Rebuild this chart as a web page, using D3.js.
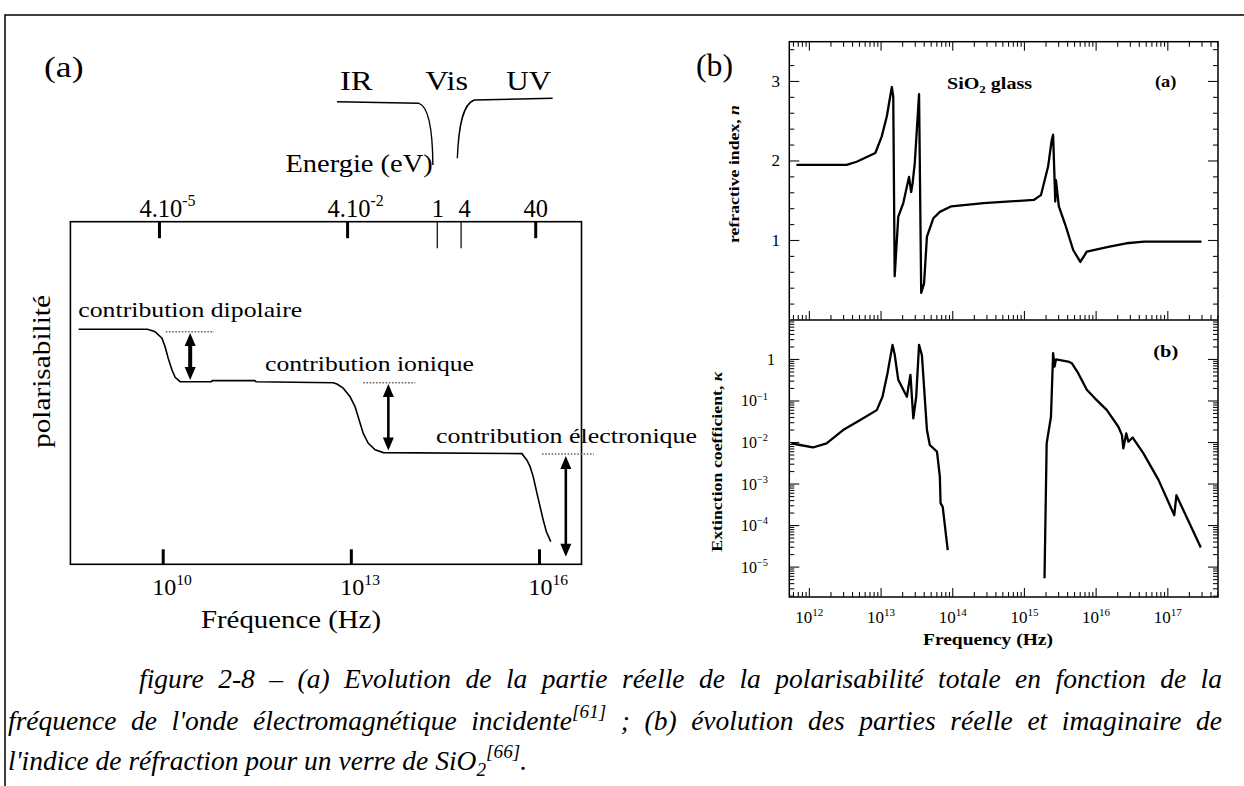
<!DOCTYPE html>
<html>
<head>
<meta charset="utf-8">
<style>
  body { margin: 0; background: #fff; }
  svg { display: block; }
  text { font-family: "Liberation Serif", "Times New Roman", serif; fill: #000; }
</style>
</head>
<body>
<svg width="1244" height="786"></svg>
<script src="https://d3js.org/d3.v7.min.js"></script>
<script>

// ---------- (a) polarisability vs frequency ----------
// x = log10(frequency / Hz), y = polarisability, arbitrary units (0 bottom .. 1 top of frame)
var polCurve = [[8.65,0.686],[9.75,0.686],[9.87,0.679],[9.98,0.660],[10.03,0.635],[10.08,0.601],
  [10.14,0.567],[10.19,0.546],[10.27,0.533],[10.77,0.533],[10.78,0.536],[11.46,0.536],[11.48,0.533],
  [12.71,0.530],[12.77,0.526],[12.87,0.514],[12.98,0.489],[13.06,0.460],[13.14,0.412],[13.19,0.382],
  [13.27,0.353],[13.38,0.334],[13.51,0.326],[15.72,0.323],[15.80,0.304],[15.85,0.285],[15.90,0.256],
  [15.96,0.207],[16.01,0.168],[16.06,0.129],[16.11,0.095],[16.18,0.066]];
var freqTicks = [10, 13, 16];
var energyTicks = [9.94, 12.94, 15.94];
var energyLabels = [["4.10", "-5"], ["4.10", "-2"], ["40", ""]];
var visTicks = [14.37, 14.75];
var visLabels = ["1", "4"];
var bands = ["IR", "Vis", "UV"];
var bandCentres = [13.08, 14.52, 15.83];
var bandEdges = [12.77, 14.30, 14.69, 16.21];
var contribNames = ["contribution dipolaire", "contribution ionique", "contribution électronique"];
var contribF = [10.43, 13.59, 16.42];
var contribHigh = [0.675, 0.526, 0.316];
var contribLow = [0.538, 0.332, 0.022];
var contribLevel = [0.679, 0.530, 0.322];
var contribDotFrom = [10.04, 13.19, 16.04];
var contribDotTo = [10.81, 14.02, 16.87];

// ---------- (b) SiO2 glass ----------
// x = log10(frequency / Hz); n = refractive index; k = log10(extinction coefficient)
var nCurve = [[11.82,1.95],[12.52,1.95],[12.66,1.99],[12.92,2.10],[13.01,2.31],[13.08,2.56],[13.15,2.93],
  [13.17,2.81],[13.19,0.55],[13.24,1.30],[13.31,1.47],[13.39,1.80],[13.42,1.61],[13.44,1.72],[13.47,1.97],
  [13.53,2.84],[13.56,0.34],[13.60,0.46],[13.64,1.05],[13.73,1.28],[13.82,1.36],[13.98,1.43],[14.43,1.47],
  [15.13,1.51],[15.23,1.57],[15.33,1.93],[15.38,2.26],[15.40,2.33],[15.43,1.49],[15.44,1.76],[15.48,1.43],
  [15.58,1.17],[15.68,0.88],[15.78,0.73],[15.87,0.86],[16.17,0.92],[16.42,0.965],[16.67,0.985],[17.47,0.985]];
var kCurveIR = [[11.75,-2.02],[11.87,-2.06],[12.05,-2.12],[12.24,-2.02],[12.47,-1.70],[12.71,-1.46],
  [12.94,-1.22],[13.02,-0.90],[13.09,-0.33],[13.16,0.35],[13.19,0.12],[13.24,-0.49],[13.36,-0.90],
  [13.39,-0.57],[13.41,-0.37],[13.45,-1.42],[13.49,-0.90],[13.53,0.35],[13.57,0.10],[13.64,-1.70],
  [13.68,-2.06],[13.78,-2.22],[13.82,-2.82],[13.83,-3.46],[13.86,-3.55],[13.93,-4.59]];
var kCurveUV = [[15.28,-5.27],[15.31,-2.02],[15.37,-1.38],[15.40,0.15],[15.42,-0.17],[15.44,0.0],
  [15.61,-0.05],[15.66,-0.09],[15.75,-0.33],[15.87,-0.73],[15.98,-0.93],[16.15,-1.22],[16.31,-1.62],
  [16.36,-1.82],[16.38,-2.14],[16.42,-1.78],[16.45,-1.98],[16.51,-1.88],[16.66,-2.26],[16.87,-2.90],
  [17.09,-3.75],[17.12,-3.27],[17.46,-4.53]];
var nTicks = [1, 2, 3];
var kTickExp = [0, -1, -2, -3, -4, -5];
var fTickExp = [12, 13, 14, 15, 16, 17];

var captionLines = [
  [["figure 2-8 – (a) Evolution de la partie réelle de la polarisabilité totale en fonction de la"]],
  [["fréquence de l'onde électromagnétique incidente"], ["[61]", "sup"], [" ; (b) évolution des parties réelle et imaginaire de"]],
  [["l'indice de réfraction pour un verre de SiO"], ["2", "sub"], ["[66]", "sup"], ["."]]
];

var svg = d3.select("svg");
var pow10 = function(e) { return Math.pow(10, e); };

// text with optional super/subscript parts
function addText(parent, x, y, parts, o) {
  o = o || {};
  var size = o.size || 16;
  var t = parent.append("text")
      .attr("x", x).attr("y", y)
      .attr("font-size", size)
      .attr("text-anchor", o.anchor || "start");
  if (o.bold) t.attr("font-weight", "bold");
  if (o.italic) t.attr("font-style", "italic");
  if (o.fill) t.attr("fill", o.fill);
  var shift = 0;
  parts.forEach(function(p) {
    if (typeof p === "string") p = [p];
    var ts = t.append("tspan").text(p[0]);
    var want = p[1] === "sup" ? -size * 0.42 : p[1] === "sub" ? size * 0.22 : 0;
    if (want !== shift) { ts.attr("dy", want - shift); shift = want; }
    if (p[1] === "sup" || p[1] === "sub") ts.attr("font-size", size * (o.small || 0.65));
    if (p[1] === "it") ts.attr("font-style", "italic");
  });
  if (o.length) t.attr("textLength", o.length).attr("lengthAdjust", "spacingAndGlyphs");
  if (o.rotate) t.attr("transform", "rotate(-90," + x + "," + y + ")");
  return t;
}

// page frame
svg.append("path").attr("d", "M5,786V15H1244")
    .attr("fill", "none").attr("stroke", "#000").attr("stroke-width", 1.5);

// ================= panel (a) =================
var ga = svg.append("g");
var ax = d3.scaleLog().domain([pow10(8.52), pow10(16.67)]).range([70.4, 581.5]);
var ay = d3.scaleLinear().domain([0, 1]).range([564.3, 221.7]);
var fx = function(e) { return ax(pow10(e)); };

ga.append("rect")
    .attr("x", ax.range()[0]).attr("y", ay(1))
    .attr("width", ax.range()[1] - ax.range()[0]).attr("height", ay(0) - ay(1))
    .attr("fill", "none").attr("stroke", "#000").attr("stroke-width", 1.6);

freqTicks.forEach(function(e) {
  ga.append("line").attr("x1", fx(e)).attr("x2", fx(e))
      .attr("y1", ay(0)).attr("y2", ay(0) - 15).attr("stroke", "#000").attr("stroke-width", 3);
  addText(ga, fx(e) - 11, 595, ["10", [String(e), "sup"]], {size: 24});
});

energyTicks.forEach(function(e, i) {
  ga.append("line").attr("x1", fx(e)).attr("x2", fx(e))
      .attr("y1", ay(1)).attr("y2", ay(1) + 16.5).attr("stroke", "#000").attr("stroke-width", 3);
  var parts = [energyLabels[i][0]];
  if (energyLabels[i][1]) parts.push([energyLabels[i][1], "sup"]);
  addText(ga, fx(e) + (energyLabels[i][1] ? 8 : 0), 216.5, parts, {size: 24.5, anchor: "middle"});
});
visTicks.forEach(function(e, i) {
  ga.append("line").attr("x1", fx(e)).attr("x2", fx(e))
      .attr("y1", ay(1)).attr("y2", ay(1) + 26.5).attr("stroke", "#000").attr("stroke-width", 1.2);
  addText(ga, fx(e) + (i ? 3.5 : 0.5), 216.5, [visLabels[i]], {size: 24.5, anchor: "middle"});
});

addText(ga, 285.4, 171.7, ["Energie (eV)"], {size: 25, length: 147.4, fill: "#222"});

bands.forEach(function(b, i) {
  addText(ga, fx(bandCentres[i]), 90, [b], {size: 27.5, anchor: "middle", length: [32.8, 43, 45][i]});
});
var ir1 = fx(bandEdges[0]), ir2 = fx(bandEdges[1]), uv1 = fx(bandEdges[2]), uv2 = fx(bandEdges[3]);
ga.append("path")
    .attr("d", "M" + ir1 + ",101.7L" + (ir2 - 14) + ",103.3C" + (ir2 - 5) + ",106 " + (ir2 - 0.3) + ",125 " + ir2 + ",165")
    .attr("fill", "none").attr("stroke", "#000").attr("stroke-width", 1.4);
ga.append("path")
    .attr("d", "M" + uv1 + ",158.3C" + (uv1 + 1.2) + ",128 " + (uv1 + 5) + ",104 " + (uv1 + 17) + ",100L" + uv2 + ",98.3")
    .attr("fill", "none").attr("stroke", "#000").attr("stroke-width", 1.4);

ga.append("path").datum(polCurve)
    .attr("d", d3.line().x(function(d) { return fx(d[0]); }).y(function(d) { return ay(d[1]); }))
    .attr("fill", "none").attr("stroke", "#000").attr("stroke-width", 1.6);

var arrowW = [4, 2.6, 2.6];
contribNames.forEach(function(name, i) {
  ga.append("line")
      .attr("x1", fx(contribDotFrom[i])).attr("x2", fx(contribDotTo[i]))
      .attr("y1", ay(contribLevel[i])).attr("y2", ay(contribLevel[i]))
      .attr("stroke", "#666").attr("stroke-width", 1.5).attr("stroke-dasharray", "1.6,1.6");
  var x = fx(contribF[i]), y1 = ay(contribHigh[i]), y2 = ay(contribLow[i]), hw = 5.5, hl = 13;
  ga.append("line").attr("x1", x).attr("x2", x).attr("y1", y1 + hl * 0.7).attr("y2", y2 - hl * 0.7)
      .attr("stroke", "#000").attr("stroke-width", arrowW[i]);
  ga.append("path")
      .attr("d", "M" + x + "," + y1 + "L" + (x - hw) + "," + (y1 + hl) + "L" + (x + hw) + "," + (y1 + hl) + "Z" +
                 "M" + x + "," + y2 + "L" + (x - hw) + "," + (y2 - hl) + "L" + (x + hw) + "," + (y2 - hl) + "Z")
      .attr("fill", "#000");
});
addText(ga, 78.3, 316.7, [contribNames[0]], {size: 22, length: 224});
addText(ga, 265, 371, [contribNames[1]], {size: 22, length: 209});
addText(ga, 436, 443, [contribNames[2]], {size: 22, length: 261});

addText(ga, 50, 371.5, ["polarisabilité"], {size: 26, anchor: "middle", rotate: true, length: 153});
addText(ga, 201, 628, ["Fréquence (Hz)"], {size: 24.6, length: 180});
addText(ga, 44, 77, ["(a)"], {size: 29, length: 39.5});

// ================= panel (b) =================
var gb = svg.append("g");
var bx = d3.scaleLog().domain([pow10(11.72), pow10(17.7)]).range([789.3, 1218]);
var ny = d3.scaleLinear().domain([0, 3.5]).range([320, 41.7]);
var ky = d3.scaleLog().domain([pow10(-5.72), pow10(0.95)]).range([597, 320]);
var X0 = bx.range()[0], X1 = bx.range()[1];

gb.append("rect").attr("x", X0).attr("y", ny(3.5)).attr("width", X1 - X0).attr("height", ky.range()[0] - ny(3.5))
    .attr("fill", "none").attr("stroke", "#000").attr("stroke-width", 1.5);
gb.append("line").attr("x1", X0).attr("x2", X1).attr("y1", ny(0)).attr("y2", ny(0))
    .attr("stroke", "#000").attr("stroke-width", 1.5);

var ticks = gb.append("g").attr("stroke", "#111").attr("stroke-width", 1.1);
function tick(x1, y1, x2, y2) {
  ticks.append("line").attr("x1", x1).attr("y1", y1).attr("x2", x2).attr("y2", y2);
}
// frequency ticks (top, middle, bottom)
for (var d = 11; d <= 17; d++) {
  for (var m = 1; m <= 9; m++) {
    var v = m * pow10(d);
    if (v < bx.domain()[0] || v > bx.domain()[1]) continue;
    var x = bx(v), L = m === 1 ? 9 : 5;
    tick(x, ny(3.5), x, ny(3.5) + L);
    tick(x, ny(0), x, ny(0) - L);
    tick(x, ky.range()[0], x, ky.range()[0] - L);
  }
}
// refractive index ticks
for (var s = 1; s <= 17; s++) {
  var nv = s * 0.2, y = ny(nv), Ln = Math.abs(nv - Math.round(nv)) < 1e-6 ? 10 : 5;
  tick(X0, y, X0 + Ln, y);
  tick(X1, y, X1 - Ln, y);
}
// extinction coefficient ticks
for (var e = -6; e <= 0; e++) {
  for (var m2 = 1; m2 <= 9; m2++) {
    var kv = m2 * pow10(e);
    if (kv < ky.domain()[0] || kv > ky.domain()[1]) continue;
    var yk = ky(kv), Lk = m2 === 1 ? 10 : 5;
    tick(X0, yk, X0 + Lk, yk);
    tick(X1, yk, X1 - Lk, yk);
  }
}

nTicks.forEach(function(v) {
  addText(gb, 780, ny(v) + 5.5, [String(v)], {size: 17, anchor: "end", fill: "#222"});
});
kTickExp.forEach(function(e) {
  if (e === 0) addText(gb, 775, ky(1) + 5.5, ["1"], {size: 16, anchor: "end", fill: "#222"});
  else addText(gb, 768, ky(pow10(e)) + 5.5, ["10", ["\u2212" + (-e), "sup"]], {size: 16, anchor: "end", fill: "#222"});
});
fTickExp.forEach(function(e) {
  addText(gb, bx(pow10(e)), 623, ["10", [String(e), "sup"]], {size: 17, anchor: "middle", fill: "#222"});
});

var lineN = d3.line().x(function(d) { return bx(pow10(d[0])); }).y(function(d) { return ny(d[1]); });
var lineK = d3.line().x(function(d) { return bx(pow10(d[0])); }).y(function(d) { return ky(pow10(d[1])); });
gb.append("path").datum(nCurve).attr("d", lineN)
    .attr("fill", "none").attr("stroke", "#000").attr("stroke-width", 2.3).attr("stroke-linejoin", "round");
[kCurveIR, kCurveUV].forEach(function(c) {
  gb.append("path").datum(c).attr("d", lineK)
      .attr("fill", "none").attr("stroke", "#000").attr("stroke-width", 2.3).attr("stroke-linejoin", "round");
});

addText(gb, 947, 89, ["SiO", ["2", "sub"], " glass"], {size: 16, bold: true, length: 85});
addText(gb, 1155, 87, ["(a)"], {size: 16, bold: true, length: 21.4});
addText(gb, 1153.3, 357, ["(b)"], {size: 17, bold: true, length: 25});
addText(gb, 696, 76, ["(b)"], {size: 31, length: 37});
addText(gb, 739, 174, ["refractive index, ", ["n", "it"]], {size: 15, bold: true, anchor: "middle", rotate: true, length: 138});
addText(gb, 722, 461.7, ["Extinction coefficient, ", ["\u03ba", "it"]], {size: 15, bold: true, anchor: "middle", rotate: true, length: 180});
addText(gb, 988, 645, ["Frequency (Hz)"], {size: 17, bold: true, anchor: "middle", length: 130});

// ================= caption =================
var capX = [[139, 1222], [8, 1222], [8, null]];
var capY = [688, 730, 770];
captionLines.forEach(function(parts, i) {
  var t = addText(svg, capX[i][0], capY[i], parts, {size: 27.5, italic: true, small: 0.7});
  if (capX[i][1]) {
    var natural = t.node().getComputedTextLength();
    var spaces = parts.map(function(p) { return p[0]; }).join("").split(" ").length - 1;
    t.attr("word-spacing", (capX[i][1] - capX[i][0] - natural) / spaces);
  }
});

</script>
</body>
</html>
